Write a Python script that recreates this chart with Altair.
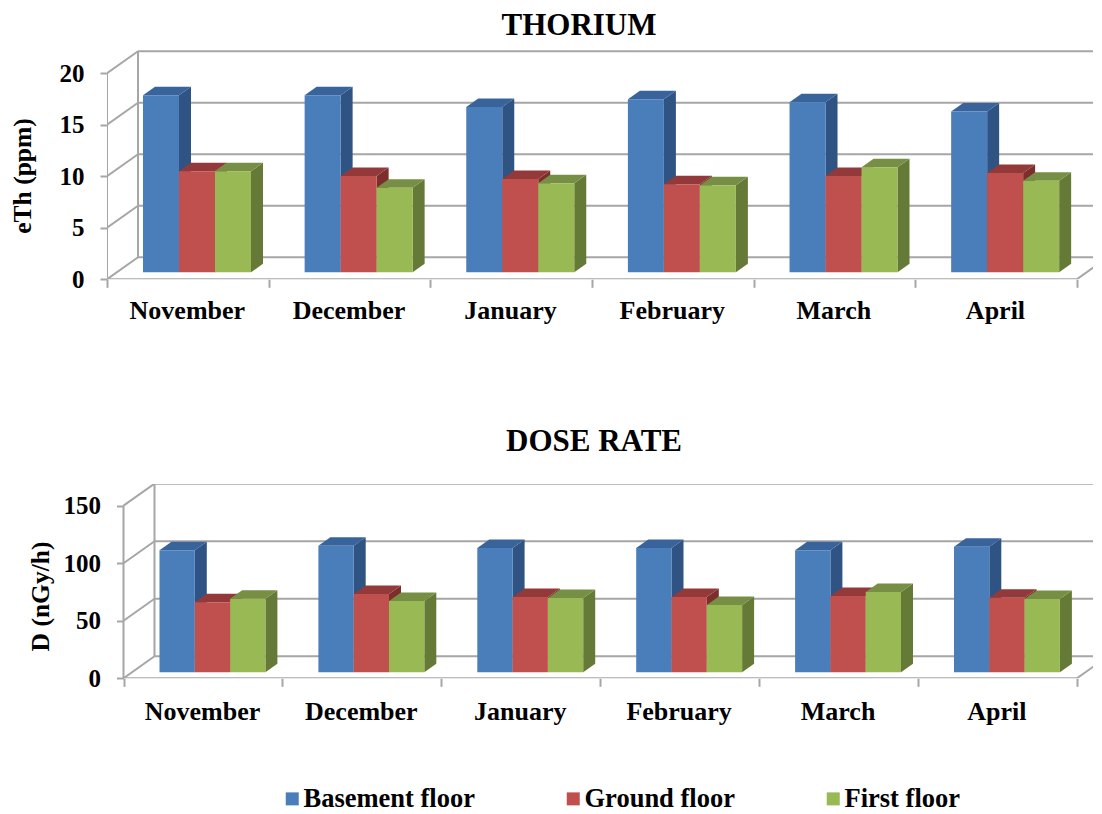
import altair as alt
import pandas as pd

MONTHS = ["November", "December", "January", "February", "March", "April"]
SERIES = ["Basement floor", "Ground floor", "First floor"]
FRONT = ["#4a7ebb", "#c0504d", "#98b954"]
TOP = ["#38649b", "#93393a", "#778f44"]
SIDE = ["#2f5383", "#7b2e2c", "#667a38"]

THORIUM_BASEMENT = [17.2, 17.2, 16.05, 16.8, 16.5, 15.6]
THORIUM_GROUND = [9.8, 9.35, 9.05, 8.55, 9.35, 9.65]
THORIUM_FIRST = [9.8, 8.2, 8.65, 8.45, 10.2, 8.9]

DOSE_BASEMENT = [106, 110, 108, 108, 106, 109]
DOSE_GROUND = [60.8, 68, 65.4, 65.4, 66.3, 64.8]
DOSE_FIRST = [64, 62, 64.5, 58.5, 69.8, 63.7]

FONT = "Liberation Serif"
GREY = "#a6a6a6"
PLOT_W = 986


def panel(title, title_dx, ytitle, ytitle_y, title_pad, values, ticks, unit_x, unit_y, height,
          left_shift, y_offset, title_offset, base_px, label_pad):
    wall_dx, wall_dy = 31 / unit_x, 22 / unit_y
    base_y = base_px / unit_y
    bar_w = (36 if unit_x > 160 else 35.3) / unit_x
    bar_dx, bar_dy = 12 / unit_x, 8.5 / unit_y
    x_min = -left_shift / unit_x
    x_max = x_min + PLOT_W / unit_x
    y_max = height / unit_y

    segs = []
    def seg(a, b, c, d):
        segs.append({"x": a, "y": b, "x2": c, "y2": d})
    for t in ticks:
        seg(0, t, wall_dx, t + wall_dy)
        seg(wall_dx, t + wall_dy, x_max, t + wall_dy)
    seg(0, 0, 0, ticks[-1])
    seg(wall_dx, wall_dy, wall_dx, ticks[-1] + wall_dy)
    seg(0, 0, 6, 0)
    seg(6, 0, 6 + wall_dx, wall_dy)
    seg_df = pd.DataFrame(segs)

    fronts, faces = [], []
    for s, series in enumerate(values):
        for m, v in enumerate(series):
            xl = m + (36 / unit_x) + s * bar_w
            xr = xl + bar_w
            top = base_y + v
            fronts.append({"series": SERIES[s], "x": xl, "x2": xr, "y": base_y, "y2": top})
            bid = f"{s}-{m}"
            for x, a, b in [(xr, base_y, top), (xr + bar_dx, base_y + bar_dy, top + bar_dy)]:
                faces.append({"id": "s" + bid, "fill": SIDE[s], "x": x, "y": a, "y2": b})
            for x, a, b in [(xl, top, top), (xl + bar_dx, top, top + bar_dy),
                            (xr, top, top + bar_dy), (xr + bar_dx, top + bar_dy, top + bar_dy)]:
                faces.append({"id": "t" + bid, "fill": TOP[s], "x": x, "y": a, "y2": b})

    xs = alt.Scale(domain=[x_min, x_max], nice=False, zero=False)
    ys = alt.Scale(domain=[0, y_max], nice=False, zero=False)
    month_js = "[" + ",".join(f"'{m}'" for m in MONTHS) + "]"
    xaxis = alt.Axis(
        values=[i / 2 for i in range(13)], title=None, grid=False, domain=False,
        tickColor=GREY, tickWidth=2, tickSize=8,
        tickOpacity={"condition": {"test": "datum.value % 1 == 0", "value": 1}, "value": 0},
        labelExpr=f"datum.value % 1 == 0 ? '' : {month_js}[floor(datum.value)]",
        labelFont=FONT, labelFontWeight="bold", labelFontSize=26, labelColor="black",
        labelPadding=label_pad, labelOverlap=False, labelFlush=False, labelAngle=0, labelOffset=-1,
    )
    yaxis = alt.Axis(
        values=ticks, title=ytitle, grid=False, domain=False, offset=y_offset,
        tickColor=GREY, tickWidth=2, tickSize=7,
        labelFont=FONT, labelFontWeight="bold", labelFontSize=25, labelColor="black",
        labelPadding=16, titleFont=FONT, titleFontWeight="bold", titleFontSize=25.5,
        titleColor="black", titlePadding=title_pad, titleY=ytitle_y,
    )
    lines = alt.Chart(seg_df).mark_rule(color=GREY, strokeWidth=2, clip=True).encode(
        x=alt.X("x:Q", scale=xs, axis=xaxis), y=alt.Y("y:Q", scale=ys, axis=yaxis),
        x2="x2:Q", y2="y2:Q",
    )
    face_layer = alt.Chart(pd.DataFrame(faces)).mark_area(line=False, clip=True).encode(
        x=alt.X("x:Q", scale=xs), y=alt.Y("y:Q", scale=ys), y2="y2:Q",
        fill=alt.Fill("fill:N", scale=None), detail="id:N",
    )
    bars = alt.Chart(pd.DataFrame(fronts)).mark_bar(clip=True, strokeWidth=0).encode(
        x=alt.X("x:Q", scale=xs), x2="x2:Q", y=alt.Y("y:Q", scale=ys), y2="y2:Q",
        color=alt.Color(
            "series:N",
            scale=alt.Scale(domain=SERIES, range=FRONT),
            legend=alt.Legend(
                title=None, orient="none", legendX=172, legendY=735.5, direction="horizontal",
                columns=3, columnPadding=85, symbolType="square", symbolSize=169,
                symbolStrokeWidth=0, labelFont=FONT, labelFontWeight="bold", labelFontSize=26.5,
                labelColor="black", labelLimit=300, labelOffset={"expr": "-2"},
            ),
        ),
    )
    return alt.layer(lines, face_layer, bars).properties(
        width=PLOT_W, height=height,
        title=alt.TitleParams(title, font=FONT, fontWeight="bold", fontSize=31, color="black",
                              anchor="middle", dx=title_dx, offset=title_offset),
    )


top = panel("THORIUM", -21, "eTh (ppm)", 125.5, 23.5,
            [THORIUM_BASEMENT, THORIUM_GROUND, THORIUM_FIRST], [0, 5, 10, 15, 20],
            161.63, 10.3, 229.3, 0, 0, 8, 7, 10)
bottom = panel("DOSE RATE", -6, "D (nGy/h)", 112, 9.5,
               [DOSE_BASEMENT, DOSE_GROUND, DOSE_FIRST], [0, 50, 100, 150],
               158.9, 1.151, 194.3, 16.5, -16.5, 26, 6, 12)

chart = alt.vconcat(top, bottom, spacing=102,
                    padding={"left": 2, "top": 2, "right": 0, "bottom": 0}).configure_view(stroke=None)
chart.save("out.html", embed_options={"renderer": "svg", "actions": False})
